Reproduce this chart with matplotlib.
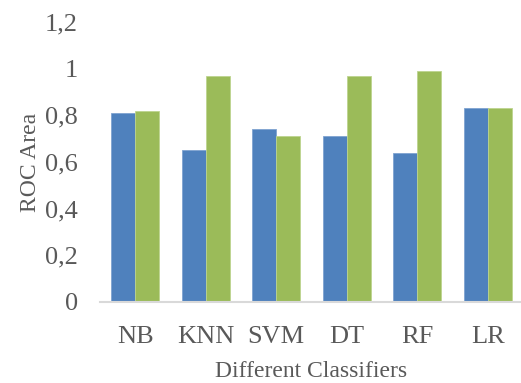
import numpy as np
import matplotlib
matplotlib.use("Agg")
import matplotlib.pyplot as plt
from matplotlib.ticker import FuncFormatter

plt.rcParams['font.family'] = ['Liberation Serif', 'DejaVu Serif']

classifiers = ['NB', 'KNN', 'SVM', 'DT', 'RF', 'LR']
series_a = [0.81, 0.65, 0.74, 0.71, 0.64, 0.83]
series_b = [0.82, 0.97, 0.71, 0.97, 0.99, 0.83]

blue = '#4F81BD'
green = '#9BBB59'
gray = '#595959'

fig = plt.figure(figsize=(5.21, 3.83), dpi=100)
ax = fig.add_axes([0.192, 0.2115, 0.812, 0.731])

x = np.arange(len(classifiers))
w = 0.34
ax.bar(x - w / 2, series_a, w, color=blue, edgecolor='#7FA3D0', linewidth=0.6)
ax.bar(x + w / 2, series_b, w, color=green, edgecolor='#BDD48F', linewidth=0.6)

ax.set_xlim(-0.5, 5.5)
ax.set_ylim(0, 1.2)
ax.set_yticks(np.arange(0, 1.21, 0.2))
ax.yaxis.set_major_formatter(FuncFormatter(lambda v, p: ('%g' % round(v, 1)).replace('.', ',')))
ax.set_xticks(x)
ax.set_xticklabels(classifiers)

for s in ['top', 'right', 'left']:
    ax.spines[s].set_visible(False)
ax.spines['bottom'].set_color('#D9D9D9')
ax.spines['bottom'].set_linewidth(1.5)

ax.tick_params(axis='both', length=0, labelsize=19, colors=gray)
ax.tick_params(axis='y', pad=16)
ax.tick_params(axis='x', pad=17)

ax.set_ylabel('ROC Area', fontsize=17, color=gray, labelpad=3)
ax.set_xlabel('Different Classifiers', fontsize=17, color=gray, labelpad=10)

fig.savefig('out.png', dpi=100)
